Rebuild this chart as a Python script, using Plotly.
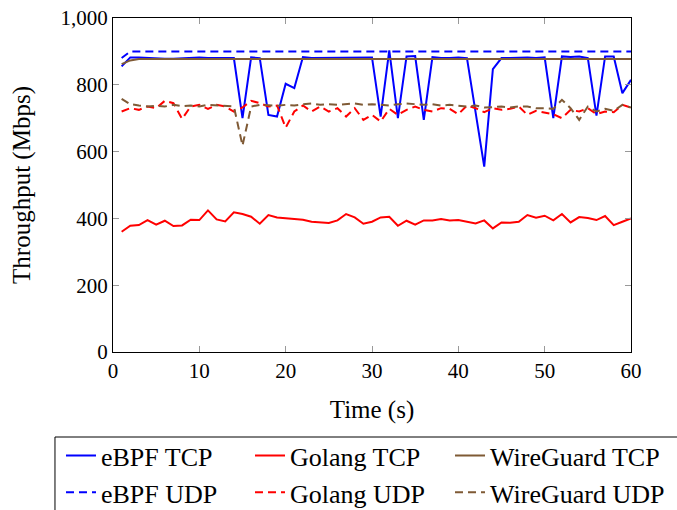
import plotly.graph_objects as go

time_s = list(range(1, 61))

ebpf_tcp = [855, 882, 882, 880, 880, 878, 878, 880, 880, 882,
            880, 880, 880, 880, 700, 882, 880, 710, 705, 803,
            790, 883, 880, 880, 882, 880, 880, 882, 880, 882,
            705, 903, 700, 885, 886, 695, 883, 880, 880, 882,
            880, 715, 555, 847, 880, 880, 882, 882, 880, 882,
            700, 885, 883, 885, 880, 708, 885, 885, 775, 815]

ebpf_udp = [880] + [900] * 59

golang_tcp = [360, 378, 380, 395, 381, 393, 377, 379, 396, 395,
              424, 397, 391, 418, 413, 405, 384, 410, 403, 400,
              397, 396, 390, 389, 386, 394, 413, 403, 384, 390,
              403, 405, 378, 393, 381, 394, 394, 398, 394, 395,
              390, 385, 394, 370, 388, 387, 390, 410, 402, 408,
              394, 413, 388, 404, 401, 395, 407, 380, 390, 400]

golang_udp = [720, 730, 725, 735, 730, 752, 745, 698, 735, 740,
              728, 740, 735, 720, 732, 752, 745, 735, 738, 672,
              720, 738, 720, 735, 720, 730, 705, 730, 695, 710,
              690, 728, 710, 725, 735, 725, 720, 730, 728, 712,
              738, 730, 718, 730, 725, 728, 735, 710, 722, 718,
              712, 700, 725, 720, 730, 712, 720, 718, 740, 732]

wg_tcp = [862, 873] + [877] * 58

wg_udp = [758, 742, 738, 735, 737, 735, 740, 736, 738, 735,
          740, 738, 736, 735, 618, 735, 740, 738, 737, 740,
          738, 742, 744, 740, 742, 740, 742, 744, 740, 742,
          740, 738, 742, 744, 742, 740, 742, 738, 740, 738,
          735, 738, 732, 733, 735, 732, 735, 735, 730, 730,
          728, 755, 730, 695, 735, 720, 728, 722, 740, 732]

BLUE = "#0000ff"
RED = "#ff0000"
BROWN = "#7f5a35"
DASH = "8px,5px"

# (name, values, colour, dash, legend column)
series = [
    ("eBPF TCP", ebpf_tcp, BLUE, "solid", "legend"),
    ("eBPF UDP", ebpf_udp, BLUE, DASH, "legend"),
    ("Golang TCP", golang_tcp, RED, "solid", "legend2"),
    ("Golang UDP", golang_udp, RED, DASH, "legend2"),
    ("WireGuard TCP", wg_tcp, BROWN, "solid", "legend3"),
    ("WireGuard UDP", wg_udp, BROWN, DASH, "legend3"),
]

FONT = "Liberation Serif"

fig = go.Figure()
for name, vals, color, dash, leg in series:
    fig.add_trace(go.Scatter(
        x=time_s, y=vals, mode="lines", name=name, legend=leg,
        line=dict(color=color, width=2, dash=dash),
    ))

LEG_Y = -0.24


def leg(xpos):
    return dict(
        orientation="v", x=xpos, xanchor="left", y=LEG_Y, yanchor="top",
        bgcolor="rgba(0,0,0,0)", borderwidth=0,
        font=dict(family=FONT, size=26, color="black"),
        tracegroupgap=0, itemwidth=30, traceorder="normal",
    )


fig.update_layout(
    width=677, height=510,
    margin=dict(l=113, r=46, t=18, b=158, autoexpand=False),
    paper_bgcolor="white", plot_bgcolor="white",
    font=dict(family=FONT, size=21, color="black"),
    showlegend=True,
    legend=leg(-0.1004),
    legend2=leg(0.2645),
    legend3=leg(0.6506),
    shapes=[dict(
        type="rect", xref="paper", yref="paper",
        x0=-0.112, x1=1.1, y0=-0.2545, y1=-0.49,
        line=dict(color="black", width=1), fillcolor="rgba(0,0,0,0)",
        layer="above",
    )],
)

fig.update_xaxes(
    range=[0, 60], dtick=10, tick0=0,
    showline=True, linecolor="black", linewidth=1.3, mirror="ticks",
    ticks="inside", ticklen=6, tickcolor="#999999", tickwidth=1.3,
    showgrid=False, zeroline=False, automargin=False,
    title=dict(text="Time (s)", font=dict(size=25, family=FONT), standoff=18),
    tickfont=dict(size=21, family=FONT),
)
fig.update_yaxes(
    range=[0, 1000], dtick=200, tick0=0, tickformat=",",
    showline=True, linecolor="black", linewidth=1.3, mirror="ticks",
    ticks="inside", ticklen=6, tickcolor="#999999", tickwidth=1.3,
    showgrid=False, zeroline=False, automargin=False,
    title=dict(text="Throughput (Mbps)", font=dict(size=25, family=FONT), standoff=22),
    tickfont=dict(size=21, family=FONT),
)

fig.write_html("out.html")
